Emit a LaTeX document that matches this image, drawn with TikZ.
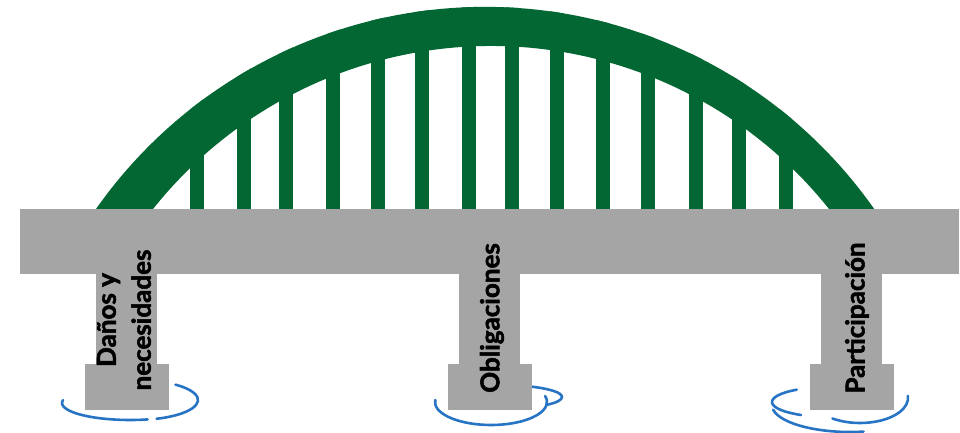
\documentclass[tikz,border=0pt]{standalone}
\usepackage{fontspec}
\setmainfont{Lato}[BoldFeatures={FakeBold=2}]
\definecolor{archgreen}{RGB}{3,103,52}
\definecolor{deckgray}{RGB}{165,165,165}
\definecolor{waterblue}{RGB}{40,116,196}

\begin{document}
\begin{tikzpicture}[x=0.5pt,y=-0.5pt,
        pier/.style={fill=deckgray},
        hanger/.style={fill=archgreen},
        ripple/.style={draw=waterblue,line width=1.3pt,line cap=round},
        pierlabel/.style={rotate=90,align=center,font=\fontsize{13}{17.5}\selectfont\bfseries}]
        \useasboundingbox (0,0) rectangle (960,433);

        % agua
        \draw[ripple] (130,403) ++(190:68 and 17) arc[start angle=190,end angle=75,x radius=68,y radius=17];
        \draw[ripple] (135,400) ++(70:63 and 20) arc[start angle=70,end angle=-50,x radius=63,y radius=20];
        \draw[ripple] (491,402) ++(185:56 and 23) arc[start angle=185,end angle=-15,x radius=56,y radius=23];
        \draw[ripple] (500,397) ++(-60:62 and 12) arc[start angle=-60,end angle=40,x radius=62,y radius=12];
        \draw[ripple] (830,402) ++(-125:58 and 15) arc[start angle=-125,end angle=-240,x radius=58,y radius=15];
        \draw[ripple] (850,405) ++(170:78 and 27) arc[start angle=170,end angle=80,x radius=78,y radius=27];
        \draw[ripple] (860,398) ++(125:48 and 25) arc[start angle=125,end angle=-5,x radius=48,y radius=25];

        % arco
        \fill[archgreen] (96,209) arc[start angle=-144.9,end angle=-35.1,radius=475.6]
            -- (880,219) -- (826,219) -- (829,209)
            arc[start angle=-38.5,end angle=-141.5,radius=431.9]
            -- (150,219) -- (90,219) -- cycle;
        \begin{scope}
            \clip (96,209) arc[start angle=-144.9,end angle=-35.1,radius=475.6] -- cycle;
            \foreach \hx in {197,244,286,333,378,422,469,512,557,603,648,696,739,786}
                \fill[hanger] (\hx-7,0) rectangle (\hx+7,215);
        \end{scope}

        % tablero y pilares
        \fill[pier] (20,209) rectangle (959,274);
        \foreach \px in {126.5,489.5,851.5} {
            \fill[pier] (\px-30.5,270) rectangle (\px+30.5,366);
            \fill[pier] (\px-42,364) rectangle (\px+42,410);
        }

        \node[pierlabel] (dano) at (124,320) {Daños y\\necesidades};
        \node[pierlabel] (oblig) at (492,318) {Obligaciones};
        \node[pierlabel] (partic) at (857,318) {Participación};
    \end{tikzpicture}
\end{document}
